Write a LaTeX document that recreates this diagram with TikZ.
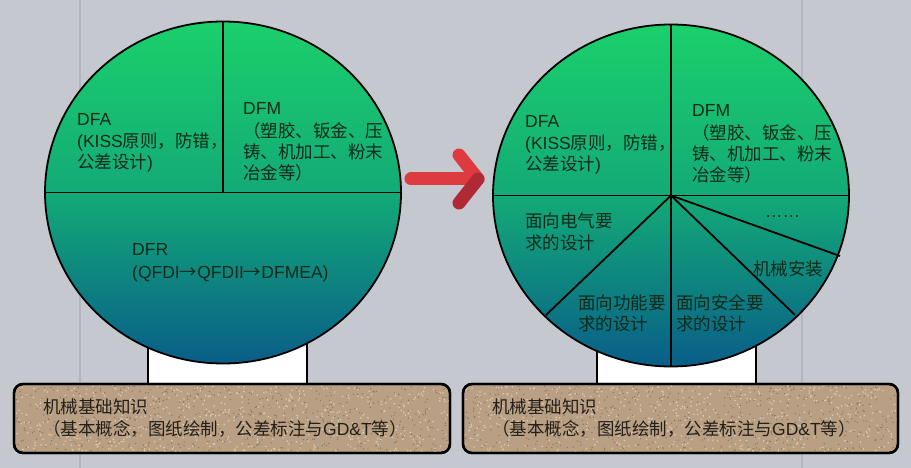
\documentclass[tikz,border=0pt]{standalone}
\usepackage{fontspec}
\setmainfont{Liberation Sans}
\newfontfamily\cjk{Noto Sans CJK SC}
\definecolor{bgc}{HTML}{C5C8CF}
\definecolor{vlinec}{HTML}{B3B6BE}
\definecolor{gtop}{HTML}{1BD06B}
\definecolor{gmid}{HTML}{13AA77}
\definecolor{gbot}{HTML}{095E88}
\definecolor{txtc}{HTML}{0F2A1A}
\definecolor{boxc}{HTML}{B9A084}
\definecolor{speckL}{HTML}{DCCBB3}
\definecolor{speckD}{HTML}{8A735B}
\definecolor{boxtxt}{HTML}{231E18}
\definecolor{arrowc}{HTML}{DD3B3F}
\definecolor{arrowd}{HTML}{B02A36}
\begin{document}
\begin{tikzpicture}[x=1pt,y=-1pt,
  globe/.style={draw=black,line width=1.8pt,top color=gtop,bottom color=gbot,middle color=gmid},
  divider/.style={draw=black,line width=1.8pt},
  pedestal/.style={draw=black,fill=white,line width=2.6pt},
  basebox/.style={draw=black,fill=boxc,line width=2.4pt,rounded corners=9pt},
  txt/.style={inner sep=0pt,anchor=base west,text=txtc,font=\fontsize{17.5}{21}\selectfont},
  btxt/.style={inner sep=0pt,anchor=base west,text=boxtxt,font=\fontsize{17.5}{21}\selectfont},
  redarrow/.style={line width=13pt,line cap=round,line join=round},
]
\useasboundingbox (0,0) rectangle (911,468);
\fill[bgc] (0,0) rectangle (911,468);
\draw[vlinec,line width=1.5pt] (80,0) -- (80,468);
\draw[vlinec,line width=1.5pt] (802,0) -- (802,468);

% pedestals
\draw[pedestal] (148,330) rectangle (307,388);
\draw[pedestal] (597,330) rectangle (756,388);

% ---------------- left globe ----------------
\coordinate (cL) at (223,192.5);
\draw[globe] (cL) ellipse [x radius=178, y radius=171];
\coordinate (lTop) at (223,21.5);
\coordinate (lW) at (45,192.5);
\coordinate (lE) at (401,192.5);
\draw[divider] (lTop) -- (cL);
\draw[divider] (lW) -- (lE);

\node[txt] (lDFA1) at (77,126) {DFA};
\node[txt] (lDFA2) at (77,148) {(KISS{\cjk 原则，防错，}};
\node[txt] (lDFA3) at (77,169) {{\cjk 公差设计})};
\node[txt] (lDFM1) at (243,115) {DFM};
\node[txt] (lDFM2) at (243,138) {\cjk （塑胶、钣金、压};
\node[txt] (lDFM3) at (243,159) {\cjk 铸、机加工、粉末};
\node[txt] (lDFM4) at (243,180) {\cjk 冶金等）};
\node[txt] (lDFR1) at (132,255) {DFR};
\node[txt] (lDFR2) at (132,278) {(QFDI{\cjk →}QFDII{\cjk →}DFMEA)};

% ---------------- right globe ----------------
\coordinate (cR) at (671,195.5);
\draw[globe] (cR) ellipse [x radius=178, y radius=171];
\coordinate (rTop) at (671,24.5);
\coordinate (rW) at (493,195.5);
\coordinate (rE) at (849,195.5);
\coordinate (rSW) at (546,315);
\coordinate (rS) at (671,366.5);
\coordinate (rSE) at (795,315);
\coordinate (rEE) at (840,256);
\draw[divider] (rTop) -- (cR);
\draw[divider] (rW) -- (rE);
\draw[divider] (cR) -- (rSW);
\draw[divider] (cR) -- (rS);
\draw[divider] (cR) -- (rSE);
\draw[divider] (cR) -- (rEE);

\node[txt] (rDFA1) at (525,128) {DFA};
\node[txt] (rDFA2) at (525,150) {(KISS{\cjk 原则，防错，}};
\node[txt] (rDFA3) at (525,171) {{\cjk 公差设计})};
\node[txt] (rDFM1) at (692,117) {DFM};
\node[txt] (rDFM2) at (692,140) {\cjk （塑胶、钣金、压};
\node[txt] (rDFM3) at (692,161) {\cjk 铸、机加工、粉末};
\node[txt] (rDFM4) at (692,182) {\cjk 冶金等）};
\node[txt] (rEl1) at (525,228) {\cjk 面向电气要};
\node[txt] (rEl2) at (525,249) {\cjk 求的设计};
\node[txt] (rDots) at (765,218) {……};
\node[txt] (rMech) at (753,275) {\cjk 机械安装};
\node[txt] (rFn1) at (578,309) {\cjk 面向功能要};
\node[txt] (rFn2) at (578,330) {\cjk 求的设计};
\node[txt] (rSf1) at (676,309) {\cjk 面向安全要};
\node[txt] (rSf2) at (676,330) {\cjk 求的设计};

% ---------------- red arrow ----------------
\draw[redarrow,arrowc] (411,179) -- (474,179);
\draw[redarrow,arrowc] (459,155) -- (478,179);
\draw[redarrow,arrowd] (478,179) -- (459,203);

% ---------------- base boxes ----------------
\pgfmathsetseed{7}
\draw[basebox] (14,384) rectangle (450,453);
\begin{scope}
  \clip[rounded corners=9pt] (15.5,385.5) rectangle (448.5,451.5);
  \foreach \k in {1,...,650}{
    \pgfmathsetmacro\px{14+436*rnd}
    \pgfmathsetmacro\py{384+69*rnd}
    \fill[speckL] (\px,\py) circle[radius=0.9];
    \pgfmathsetmacro\qx{14+436*rnd}
    \pgfmathsetmacro\qy{384+69*rnd}
    \fill[speckD] (\qx,\qy) circle[radius=0.7];
  }
\end{scope}
\draw[basebox,fill=none] (14,384) rectangle (450,453);

\draw[basebox] (463,384) rectangle (898,453);
\begin{scope}
  \clip[rounded corners=9pt] (464.5,385.5) rectangle (896.5,451.5);
  \foreach \k in {1,...,650}{
    \pgfmathsetmacro\px{463+435*rnd}
    \pgfmathsetmacro\py{384+69*rnd}
    \fill[speckL] (\px,\py) circle[radius=0.9];
    \pgfmathsetmacro\qx{463+435*rnd}
    \pgfmathsetmacro\qy{384+69*rnd}
    \fill[speckD] (\qx,\qy) circle[radius=0.7];
  }
\end{scope}
\draw[basebox,fill=none] (463,384) rectangle (898,453);

\node[btxt] (lB1) at (43,413) {\cjk 机械基础知识};
\node[btxt] (lB2) at (43,435) {{\cjk （基本概念，图纸绘制，公差标注与}GD\&T{\cjk 等）}};
\node[btxt] (rB1) at (492,413) {\cjk 机械基础知识};
\node[btxt] (rB2) at (492,435) {{\cjk （基本概念，图纸绘制，公差标注与}GD\&T{\cjk 等）}};
\end{tikzpicture}
\end{document}
